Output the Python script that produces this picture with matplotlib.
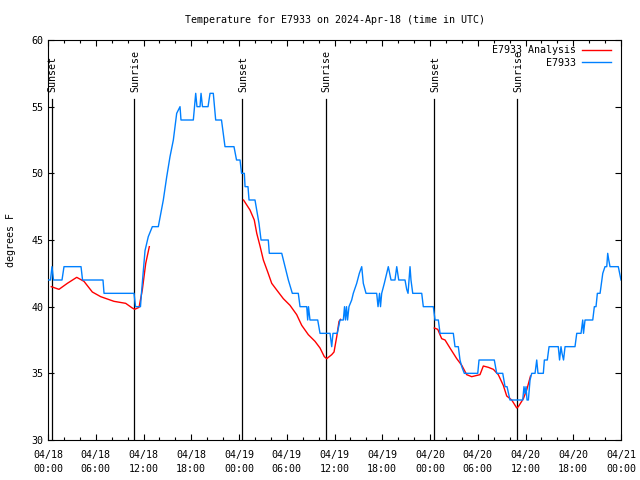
import matplotlib
matplotlib.use("Agg")
import matplotlib.pyplot as plt
from matplotlib.ticker import MultipleLocator, FixedLocator, FixedFormatter

title = "Temperature for E7933 on 2024-Apr-18 (time in UTC)"
ylabel = "degrees F"

# E7933 observations: (hours since 04/18 00:00 UTC, degrees F)
obs_hours = [0, 0.31, 0.50, 0.69, 1.76, 2.01, 4.15, 4.34, 6.91, 7.04, 10.81, 11.00, 11.62, 11.77,
             12.19, 12.60, 13.11, 13.86, 14.49, 14.92, 15.33, 15.75, 16.17, 16.59, 16.71, 18.26,
             18.56, 18.72, 19.10, 19.23, 19.41, 20.11, 20.36, 20.77, 21.07, 21.80, 22.24, 23.37,
             23.69, 24.13, 24.32, 24.67, 24.76, 25.13, 25.26, 26.01, 26.23, 26.51, 26.77, 27.68,
             27.81, 29.37, 29.78, 30.20, 30.70, 31.45, 31.67, 32.51, 32.63, 32.73, 32.92, 33.89,
             34.18, 35.44, 35.65, 35.81, 36.35, 36.69, 37.11, 37.26, 37.38, 37.51, 37.64, 37.82,
             38.16, 38.36, 38.79, 39.12, 39.42, 39.62, 39.96, 41.30, 41.47, 41.66, 41.78, 41.93,
             42.26, 42.56, 42.76, 43.10, 43.60, 43.82, 44.07, 44.86, 45.07, 45.24, 45.49, 45.61,
             45.83, 46.96, 47.16, 48.42, 48.63, 49.05, 49.26, 50.93, 51.14, 51.56, 51.77, 51.99,
             52.31, 54.00, 54.16, 56.08, 56.38, 57.14, 57.43, 57.68, 58.05, 59.65, 59.81, 59.94,
             60.07, 60.19, 60.36, 60.57, 60.78, 61.20, 61.41, 61.57, 62.24, 62.37, 62.74, 62.96,
             64.12, 64.28, 64.46, 64.59, 64.78, 64.97, 66.22, 66.44, 66.98, 67.19, 67.29, 67.48,
             68.45, 68.65, 68.86, 69.03, 69.37, 69.71, 69.99, 70.21, 70.33, 70.46, 70.62, 71.66,
             72.00]
obs_temps = [42, 42, 43, 42, 42, 43, 43, 42, 42, 41, 41, 40, 40, 41.2,
             44.2, 45.25, 46, 46, 48, 49.75, 51.25, 52.5, 54.5, 55, 54, 54,
             56, 55, 55, 56, 55, 55, 56, 56, 54, 54, 52, 52,
             51, 51, 50, 50, 49, 49, 48, 48, 47.25, 46.25, 45, 45,
             44, 44, 43, 42, 41, 41, 40, 40, 39, 40, 39, 39,
             38, 38, 37, 38, 38, 39, 39, 40, 39, 40, 39, 40,
             40.5, 41, 41.75, 42.5, 43, 41.75, 41, 41, 40, 41, 40, 41,
             41.75, 42.5, 43, 42, 42, 43, 42, 42, 41.3, 41, 43, 42,
             41, 41, 40, 40, 39, 39, 38, 38, 37, 37, 36, 35.5,
             35, 35, 36, 36, 35, 35, 34, 34, 33, 33, 34, 33.5,
             34, 33, 33, 34.5, 35, 35, 36, 35, 35, 36, 36, 37,
             37, 36, 37, 36.5, 36, 37, 37, 38, 38, 39, 38, 39,
             39, 40, 40, 41, 41, 42.5, 43, 43, 44, 43.5, 43, 43,
             42]

# E7933 Analysis, three nightly segments
ana_hours = [
    [0.41, 1.38, 2.43, 3.61, 4.52, 5.57, 6.62, 8.29, 9.76, 10.59, 10.89, 11.44, 11.85, 12.28, 12.73],
    [24.57, 25.38, 25.92, 26.23, 26.64, 27.06, 27.61, 28.11, 28.74, 29.57, 30.41, 31.25, 31.88,
     32.71, 33.55, 34.18, 34.72, 35.02, 35.65, 35.94, 36.28, 36.57, 36.76],
    [48.54, 48.97, 49.47, 49.89, 50.51, 51.36, 51.99, 52.61, 53.24, 54.28, 54.70, 55.33, 55.96,
     56.58, 57.21, 57.64, 58.27, 58.90, 59.10, 59.73, 60.15, 60.63],
]
ana_temps = [
    [41.5, 41.3, 41.75, 42.2, 41.9, 41.1, 40.75, 40.4, 40.25, 39.9, 39.8, 39.95, 41.25, 43.25, 44.5],
    [48.0, 47.25, 46.5, 45.5, 44.55, 43.5, 42.6, 41.75, 41.25, 40.6, 40.1, 39.4, 38.6,
     37.9, 37.4, 36.9, 36.25, 36.1, 36.4, 36.6, 37.75, 38.9, 39.05],
    [38.4, 38.3, 37.6, 37.5, 36.9, 36.1, 35.6, 34.9, 34.75, 34.9, 35.55, 35.45, 35.3,
     34.9, 34.1, 33.3, 33.0, 32.4, 32.5, 33.1, 33.75, 34.8],
]

sun_hours = [0.45, 10.85, 24.42, 34.89, 48.55, 58.98]
sun_labels = ["Sunset", "Sunrise", "Sunset", "Sunrise", "Sunset", "Sunrise"]

xtick_hours = [0, 6, 12, 18, 24, 30, 36, 42, 48, 54, 60, 66, 72]
xtick_labels = ["04/18\n00:00", "04/18\n06:00", "04/18\n12:00", "04/18\n18:00",
                "04/19\n00:00", "04/19\n06:00", "04/19\n12:00", "04/19\n18:00",
                "04/20\n00:00", "04/20\n06:00", "04/20\n12:00", "04/20\n18:00",
                "04/21\n00:00"]

plt.rcParams['font.family'] = ['DejaVu Sans Mono']
FS = 7.2

fig = plt.figure(figsize=(6.4, 4.8), dpi=100)
ax = fig.add_axes([48/640, 1-440/480, (621-48)/640, 400/480])

RED = "#ff0000"
BLUE = "#0080ff"

for i, (h, t) in enumerate(zip(ana_hours, ana_temps)):
    ax.plot(h, t, color=RED, lw=1.0, label="E7933 Analysis" if i == 0 else None, zorder=3)
ax.plot(obs_hours, obs_temps, color=BLUE, lw=1.0, label="E7933", zorder=4)

for h, lab in zip(sun_hours, sun_labels):
    ax.plot([h, h], [30, 55.55], color="black", lw=0.9, zorder=2)
    ax.text(h + 0.15, 56.1, lab, rotation=90, ha="center", va="bottom", fontsize=FS)

ax.set_xlim(0, 72)
ax.set_ylim(30, 60)
ax.xaxis.set_major_locator(FixedLocator(xtick_hours))
ax.xaxis.set_major_formatter(FixedFormatter(xtick_labels))
ax.xaxis.set_minor_locator(MultipleLocator(2))
ax.yaxis.set_major_locator(MultipleLocator(5))
ax.tick_params(which="both", direction="in", top=True, right=True, labelsize=FS, width=0.8)
ax.tick_params(which="major", length=4.5)
ax.tick_params(which="minor", length=2.5)
ax.tick_params(axis="x", pad=7)
for lab in ax.get_xticklabels():
    lab.set_linespacing(1.55)
for s in ax.spines.values():
    s.set_linewidth(0.8)

ax.set_ylabel(ylabel, fontsize=FS, labelpad=11)
fig.text(0.523, 1-20/480, title, ha="center", va="center", fontsize=FS)

leg = ax.legend(loc="upper right", bbox_to_anchor=(0.992, 1.0), frameon=False, markerfirst=False,
                fontsize=FS, handlelength=2.9, handletextpad=0.6, labelspacing=0.25,
                borderaxespad=0.15)

fig.savefig("out.png", dpi=100)
